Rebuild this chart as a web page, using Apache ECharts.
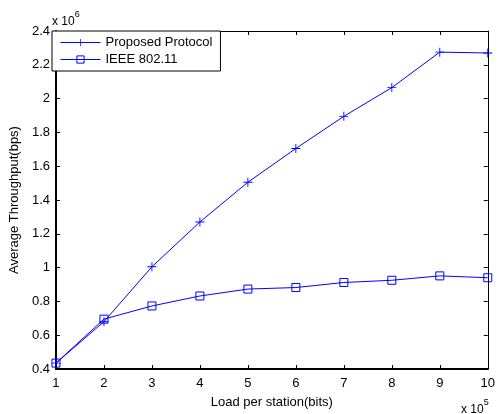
<!DOCTYPE html>
<html>
<head>
<meta charset="utf-8">
<script src="https://cdn.jsdelivr.net/npm/echarts@6/dist/echarts.min.js"></script>
<style>
html,body{margin:0;padding:0;background:#fff;}
#chart{width:498px;height:414px;}
</style>
</head>
<body>
<div id="chart"></div>
<script>
var loads = [1, 2, 3, 4, 5, 6, 7, 8, 9, 10];
var proposed = [0.435, 0.68, 1.005, 1.27, 1.505, 1.705, 1.895, 2.065, 2.275, 2.27];
var ieee = [0.435, 0.695, 0.773, 0.832, 0.873, 0.882, 0.912, 0.925, 0.951, 0.94];
var seriesNames = ['Proposed Protocol', 'IEEE 802.11'];
var xName = 'Load per station(bits)';
var yName = 'Average Throughput(bps)';

var FONT = 'Liberation Sans, Arial, Helvetica, sans-serif';
var BLUE = '#0000ff';
var plusPath = 'path://M4.5,0h1v10h-1zM0,4.5h10v1h-10z';

function pairs(xs, ys){ return xs.map(function(x,i){ return [x, ys[i]]; }); }
function fmt(v){ return String(Math.round(v*10)/10); }

var chart = echarts.init(document.getElementById('chart'), null, {renderer:'canvas'});
var axisCommon = {
  axisLine:{show:true, lineStyle:{color:'#000', width:1}},
  axisTick:{show:true, inside:true, length:4, lineStyle:{color:'#000'}},
  splitLine:{show:false}
};
chart.setOption({
  animation:false,
  backgroundColor:'#fff',
  textStyle:{fontFamily:FONT},
  grid:{left:52, right:6, top:31, bottom:40, containLabel:false},
  legend:{
    left:52, top:31, orient:'vertical',
    backgroundColor:'#fff', borderColor:'#000', borderWidth:1,
    padding:[5,8,5,8], itemGap:4, itemWidth:40, itemHeight:9,
    textStyle:{fontFamily:FONT, fontSize:13, color:'#000'},
    data:[
      {name:seriesNames[0], lineStyle:{width:1}},
      {name:seriesNames[1], lineStyle:{width:1}, itemStyle:{borderWidth:1}}
    ]
  },
  xAxis:[
    Object.assign({}, axisCommon, {
      type:'value', min:1, max:10, interval:1, position:'bottom',
      axisLine:{show:true, lineStyle:{color:'#000', width:2}},
      axisLabel:{color:'#000', fontSize:13, fontFamily:FONT, margin:8},
      name:xName, nameLocation:'middle', nameGap:27,
      nameTextStyle:{color:'#000', fontSize:13, fontFamily:FONT}
    }),
    Object.assign({}, axisCommon, {
      type:'value', min:1, max:10, interval:1, position:'top',
      axisLabel:{show:false}
    })
  ],
  yAxis:[
    Object.assign({}, axisCommon, {
      type:'value', min:0.4, max:2.4, interval:0.2, position:'left',
      axisLine:{show:true, lineStyle:{color:'#000', width:2}},
      axisLabel:{color:'#000', fontSize:13, fontFamily:FONT, margin:6, formatter:fmt},
      name:yName, nameLocation:'middle', nameGap:34,
      nameTextStyle:{color:'#000', fontSize:13, fontFamily:FONT}
    }),
    Object.assign({}, axisCommon, {
      type:'value', min:0.4, max:2.4, interval:0.2, position:'right',
      axisLabel:{show:false}
    })
  ],
  graphic:[
    {type:'text', left:52, top:10, style:{
      text:'{a|x 10}{b|6}', rich:{
        a:{fontSize:12, fontFamily:FONT, fill:'#000', padding:[6,0,0,0]},
        b:{fontSize:9, fontFamily:FONT, fill:'#000', verticalAlign:'top', padding:[0,0,6,0]}
      }}},
    {type:'text', left:461, top:398, style:{
      text:'{a|x 10}{b|5}', rich:{
        a:{fontSize:12, fontFamily:FONT, fill:'#000', padding:[6,0,0,0]},
        b:{fontSize:9, fontFamily:FONT, fill:'#000', verticalAlign:'top', padding:[0,0,6,0]}
      }}}
  ],
  series:[
    {
      name:seriesNames[0], type:'line', data:pairs(loads, proposed),
      symbol:plusPath, symbolSize:9, showAllSymbol:true,
      lineStyle:{color:BLUE, width:1},
      itemStyle:{color:BLUE, borderWidth:0}
    },
    {
      name:seriesNames[1], type:'line', data:pairs(loads, ieee),
      symbol:'rect', symbolSize:8, showAllSymbol:true,
      lineStyle:{color:BLUE, width:1},
      itemStyle:{color:'rgba(0,0,0,0)', borderColor:BLUE, borderWidth:1}
    }
  ]
});
</script>
</body>
</html>
